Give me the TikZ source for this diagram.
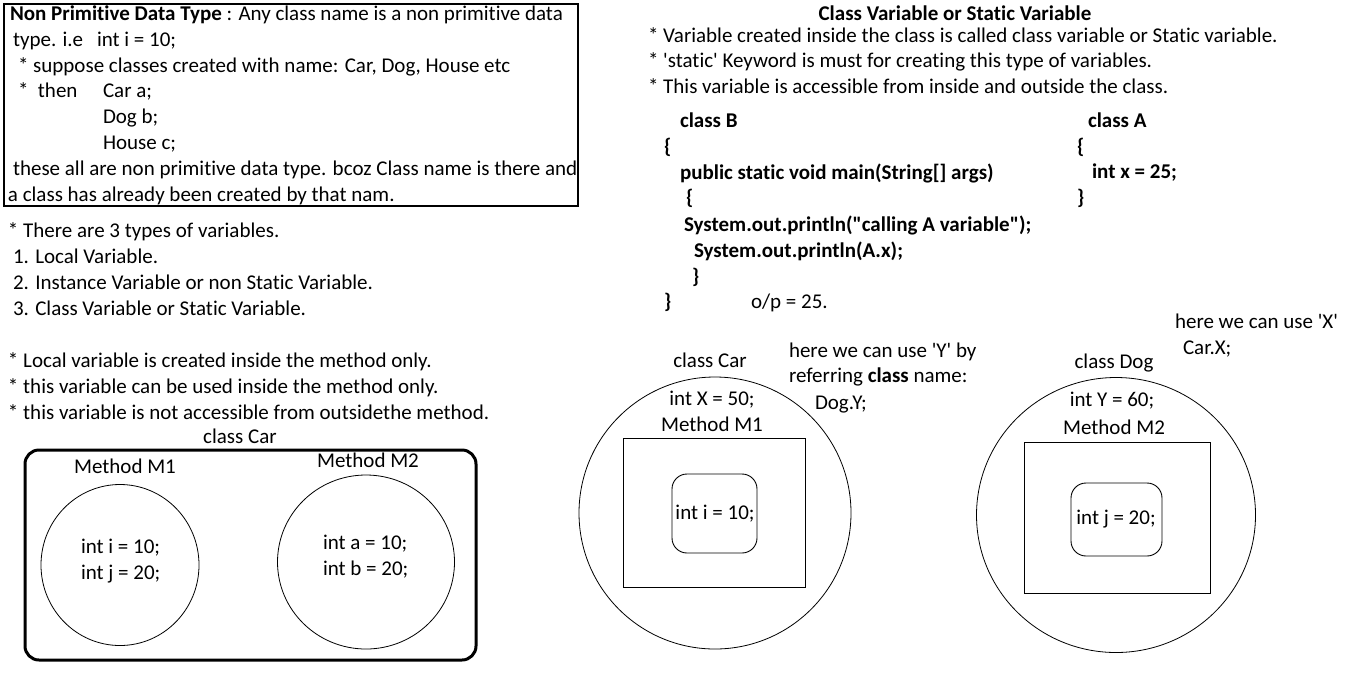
\documentclass[tikz,border=0pt]{standalone}
\usepackage{fontspec}
\usetikzlibrary{shapes.geometric}
\setmainfont{Carlito}[Ligatures={NoCommon}]
\newcommand{\q}{\textquotesingle}
\newcommand{\dq}{\textquotedbl}
\begin{document}
\begin{tikzpicture}[x=1pt,y=-1pt,
  every node/.style={inner sep=0pt,outer sep=0pt},
  txt/.style={anchor=base west,font=\fontsize{21}{25}\selectfont},
  ctxt/.style={anchor=base,font=\fontsize{21}{25}\selectfont},
  thinline/.style={draw,line width=1pt},
  oval/.style={draw,line width=0.8pt,ellipse}]
\useasboundingbox[fill=white] (0,0) rectangle (1348,673);
% Non primitive box
\node[draw,line width=1.2pt,anchor=north west,minimum width=574pt,minimum height=202pt] (npbox) at (4,4) {};
\node[txt] (l1) at (10,20) {\textbf{Non Primitive Data Type} : Any class name is a non primitive data};
\node[txt] (l2a) at (13,46) {type. i.e};
\node[txt] (l2b) at (97,46) {int i = 10;};
\node[txt] (l3) at (18,72) {* suppose classes created with name: Car, Dog, House etc};
\node[txt] (l4a) at (18,97) {*\ \ then};
\node[txt] (l4b) at (103,97) {Car a;};
\node[txt] (l5) at (103,123) {Dog b;};
\node[txt] (l6) at (103,149) {House c;};
\node[txt] (l7) at (13,175) {these all are non primitive data type. bcoz Class name is there and};
\node[txt] (l8) at (8,201) {a class has already been created by that nam.};
% types
\node[txt] (t1) at (8,237) {* There are 3 types of variables.};
\node[txt] (t2) at (13,263) {1. Local Variable.};
\node[txt] (t3) at (13,289) {2. Instance Variable or non Static Variable.};
\node[txt] (t4) at (13,315) {3. Class Variable or Static Variable.};
\node[txt] (v1) at (8,367) {* Local variable is created inside the method only.};
\node[txt] (v2) at (8,393) {* this variable can be used inside the method only.};
\node[txt] (v3) at (8,419) {* this variable is not accessible from outsidethe method.};
\node[ctxt] (cc) at (240,443) {class Car};
% class car box
\node[draw,line width=3pt,rounded corners=14pt,anchor=north west,minimum width=451pt,minimum height=210pt] (carbox) at (25,450) {};
\node[ctxt] (m1) at (125,473) {Method M1};
\node[oval,minimum width=158pt,minimum height=161pt] (c1) at (120,565) {};
\node[txt] (c1a) at (81,553) {int i = 10;};
\node[txt] (c1b) at (81,579) {int j = 20;};
\node[ctxt] (m2) at (368,467) {Method M2};
\node[oval,minimum width=177pt,minimum height=174pt] (c2) at (366,562) {};
\node[txt] (c2a) at (323,549) {int a = 10;};
\node[txt] (c2b) at (323,575) {int b = 20;};
% class variable section
\node[ctxt] (cvt) at (955,20) {\textbf{Class Variable or Static Variable}};
\node[txt] (cv1) at (648,42) {* Variable created inside the class is called class variable or Static variable.};
\node[txt] (cv2) at (648,67) {* \q static\q\ Keyword is must for creating this type of variables.};
\node[txt] (cv3) at (648,93) {* This variable is accessible from inside and outside the class.};
\node[txt] (b1) at (680,127) {\textbf{class B}};
\node[txt] (b2) at (664,153) {\textbf{\{}};
\node[txt] (b3) at (680,179) {\textbf{public static void main(String[] args)}};
\node[txt] (b4) at (686,204) {\textbf{\{}};
\node[txt] (b5) at (684,231) {\textbf{System.out.println(\dq calling A variable\dq);}};
\node[txt] (b6) at (694,257) {\textbf{System.out.println(A.x);}};
\node[txt] (b7) at (692,283) {\textbf{\}}};
\node[txt] (b8) at (664,308) {\textbf{\}}};
\node[txt] (op) at (751,308) {o/p = 25.};
\node[txt] (a1) at (1088,127) {\textbf{class A}};
\node[txt] (a2) at (1077,153) {\textbf{\{}};
\node[txt] (a3) at (1092,178) {\textbf{int x = 25;}};
\node[txt] (a4) at (1077,204) {\textbf{\}}};
% lower right
\node[txt] (hx1) at (1175,328) {here we can use \q X\q};
\node[txt] (hx2) at (1183,354) {Car.X;};
\node[ctxt] (ccar) at (710,367) {class Car};
\node[txt] (hy1) at (789,357) {here we can use \q Y\q\ by};
\node[txt] (hy2) at (789,382) {referring \textbf{class} name:};
\node[txt] (hy3) at (815,409) {Dog.Y;};
\node[oval,minimum width=272pt,minimum height=272pt] (carc) at (715,513) {};
\node[ctxt] (cx) at (712,405) {int X = 50;};
\node[ctxt] (cm1) at (712,431) {Method M1};
\node[thinline,anchor=north west,minimum width=182pt,minimum height=149pt] (r1) at (623,438) {};
\node[draw,line width=0.9pt,rounded corners=15pt,anchor=north west,minimum width=85pt,minimum height=79pt] (rr1) at (672,474) {};
\node[ctxt] (ci) at (715,519) {int i = 10;};
\node[ctxt] (cdog) at (1114,368) {class Dog};
\node[oval,minimum width=279pt,minimum height=275pt] (dogc) at (1116,515) {};
\node[ctxt] (cy) at (1112,406) {int Y = 60;};
\node[ctxt] (cm2) at (1114,434) {Method M2};
\node[thinline,anchor=north west,minimum width=186pt,minimum height=151pt] (r2) at (1024,442) {};
\node[draw,line width=0.9pt,rounded corners=15pt,anchor=north west,minimum width=91pt,minimum height=73pt] (rr2) at (1071,483) {};
\node[ctxt] (cj) at (1116,524) {int j = 20;};
\end{tikzpicture}
\end{document}
